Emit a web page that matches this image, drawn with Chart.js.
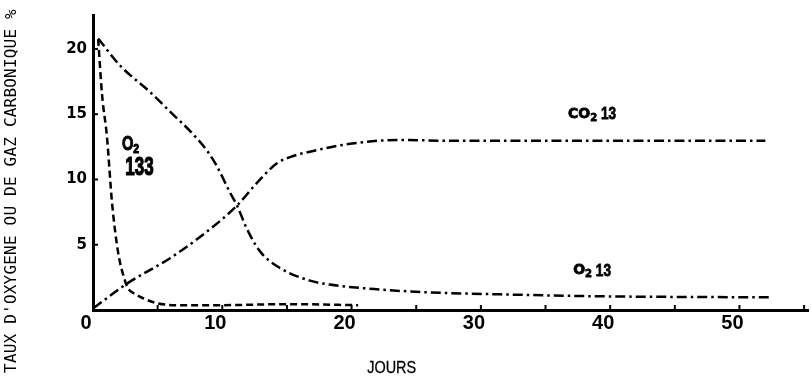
<!DOCTYPE html>
<html><head><meta charset="utf-8">
<script src="https://cdn.jsdelivr.net/npm/chart.js@4/dist/chart.umd.min.js"></script>
<style>html,body{margin:0;padding:0;background:#fff;}canvas{display:block;}</style>
</head><body>
<canvas id="c" width="811" height="387"></canvas>
<script>
// ---- data ----
const daysO2_133 = [0.4, 0.7, 1.08, 1.47, 1.93, 2.47, 2.71, 3.3, 3.87, 4.95, 6.5, 10, 15, 20.5];
const valsO2_133 = [20.75, 16.5, 13.26, 8.24, 4.49, 2.25, 1.65, 1.2, 0.9, 0.52, 0.37, 0.37, 0.45, 0.37];

const daysO2_13 = [0.4, 2.09, 4.41, 5.96, 7.73, 8.82, 9.59, 10.6, 11.14, 11.91, 12.92, 14.46, 16.78, 18.3, 22.2, 26, 31.5, 39.2, 52.4];
const valsO2_13 = [20.8, 18.73, 16.7, 15.2, 13.48, 12.2, 11.0, 8.99, 8.0, 6.2, 4.49, 3.22, 2.25, 1.95, 1.57, 1.35, 1.2, 1.05, 0.97];

const daysCO2_13 = [0.05, 2.63, 5.96, 8.5, 11.14, 12.68, 14.23, 15.5, 16.78, 19.88, 23.74, 27.6, 35, 45, 52];
const valsCO2_13 = [0.15, 2.02, 3.97, 5.77, 8.0, 9.74, 11.24, 11.8, 12.13, 12.73, 13.03, 12.96, 12.96, 12.96, 12.96];

const xTickValues = [0, 5, 10, 15, 20, 25, 30, 35, 40, 45, 50, 55];
const yTickValues = [0, 5, 10, 15, 20];

const seriesLabels = ['O2 133', 'O2 13', 'CO2 13'];
const yTitle = "TAUX D'OXYGENE OU DE GAZ CARBONIQUE %";
const xTitle = 'JOURS';

function pts(xs, ys){ return xs.map((x,i)=>({x:x, y:ys[i]})); }

const LIB = "'Liberation Sans',Arial,sans-serif";

function drawChem(ctx, parts, cx, cy, heavy){
  // parts: [{t, font, dy, sx}]
  let total = 0;
  parts.forEach(p=>{ ctx.font = p.font; p.sx = p.sx || 1; p.w = ctx.measureText(p.t).width * p.sx; total += p.w; });
  let x = cx - total/2;
  ctx.textBaseline = 'middle';
  ctx.textAlign = 'left';
  parts.forEach(p=>{
    ctx.save();
    ctx.font = p.font;
    ctx.translate(x, cy + (p.dy||0));
    ctx.scale(p.sx, 1);
    ctx.fillText(p.t, 0, 0);
    if (heavy) { ctx.lineWidth = heavy; ctx.strokeStyle = '#000'; ctx.strokeText(p.t, 0, 0); }
    ctx.restore();
    x += p.w;
  });
}

const decor = {
  id: 'decor',
  afterDraw(chart){
    const ctx = chart.ctx;
    const xs = chart.scales.x, ys = chart.scales.y;
    const ca = chart.chartArea;
    ctx.save();
    ctx.strokeStyle = '#000';
    ctx.lineWidth = 2;
    // inward ticks
    xTickValues.forEach(v=>{
      if (v === 0) return;
      const px = xs.getPixelForValue(v);
      ctx.beginPath(); ctx.moveTo(px, ca.bottom); ctx.lineTo(px, ca.bottom - 5); ctx.stroke();
    });
    yTickValues.forEach(v=>{
      if (v === 0) return;
      const py = ys.getPixelForValue(v);
      ctx.beginPath(); ctx.moveTo(ca.left, py); ctx.lineTo(ca.left + 5, py); ctx.stroke();
    });
    ctx.fillStyle = '#000';
    // series labels
    drawChem(ctx, [
      {t:'CO', font:"bold 14px 'DejaVu Sans'"},
      {t:'2', font:"bold 10px 'DejaVu Sans'", dy:4},
      {t:' 13', font:"bold 17px " + LIB, sx:0.8}
    ], xs.getPixelForValue(38.6), ys.getPixelForValue(15.0), 0.8);
    drawChem(ctx, [
      {t:'O', font:"bold 14px 'DejaVu Sans'"},
      {t:'2', font:"bold 10px 'DejaVu Sans'", dy:4},
      {t:' 13', font:"bold 17px " + LIB, sx:0.8}
    ], xs.getPixelForValue(38.6), ys.getPixelForValue(3.0), 0.8);
    drawChem(ctx, [
      {t:'O', font:"bold 21px " + LIB, sx:0.7},
      {t:'2', font:"bold 13px " + LIB, sx:0.8, dy:5}
    ], xs.getPixelForValue(2.9), ys.getPixelForValue(12.7), 1);
    drawChem(ctx, [
      {t:'133', font:"bold 25px " + LIB, sx:0.68}
    ], xs.getPixelForValue(3.6), ys.getPixelForValue(10.9), 1.2);
    // axis titles
    drawChem(ctx, [{t:xTitle, font:"17px " + LIB, sx:0.85}], xs.getPixelForValue(23.1), 368, 0.3);
    ctx.save();
    ctx.translate(12, 191);
    ctx.rotate(-Math.PI/2);
    ctx.font = "16px 'DejaVu Sans Mono'";
    ctx.textAlign = 'center';
    ctx.textBaseline = 'middle';
    try { ctx.letterSpacing = '0.2px'; } catch(e){}
    ctx.fillText(yTitle, 0, 0);
    ctx.restore();
    ctx.restore();
  }
};

new Chart(document.getElementById('c'), {
  type: 'line',
  data: {
    datasets: [
      { label: seriesLabels[0], data: pts(daysO2_133, valsO2_133), borderColor:'#000', borderWidth:2.5,
        borderDash:[7,4], pointRadius:0, cubicInterpolationMode:'monotone', fill:false },
      { label: seriesLabels[1], data: pts(daysO2_13, valsO2_13), borderColor:'#000', borderWidth:2.5,
        borderDash:[10,4,2.5,4], pointRadius:0, cubicInterpolationMode:'monotone', fill:false },
      { label: seriesLabels[2], data: pts(daysCO2_13, valsCO2_13), borderColor:'#000', borderWidth:2.5,
        borderDash:[10,4,2.5,4], pointRadius:0, cubicInterpolationMode:'monotone', fill:false }
    ]
  },
  options: {
    responsive: false,
    devicePixelRatio: 1,
    animation: false,
    layout: { padding: { left: 0, right: 3, top: 8, bottom: 0 } },
    plugins: { legend: { display:false }, tooltip: { enabled:false } },
    scales: {
      x: {
        type: 'linear', min: 0, max: 55.3,
        grid: { display:false, drawTicks:false },
        border: { display:true, color:'#000', width:3 },
        ticks: {
          stepSize: 5, autoSkip:false, maxRotation:0, padding: 1, labelOffset: -7,
          color:'#000', font: { family: LIB, size: 20, weight: 'bold' },
          callback: v => (v % 10 === 0 ? String(v) : '')
        },
        afterFit: s => { s.height = 77; }
      },
      y: {
        type: 'linear', min: 0, max: 22.6,
        grid: { display:false, drawTicks:false },
        border: { display:true, color:'#000', width:3 },
        ticks: {
          stepSize: 5, autoSkip:false, padding: 6,
          color:'#000', font: { family: "'DejaVu Sans'", size: 15, weight: 'bold' },
          callback: v => (v % 5 === 0 && v > 0 ? String(v) : '')
        },
        afterFit: s => { s.width = 93; }
      }
    }
  },
  plugins: [decor]
});
</script>
</body></html>
